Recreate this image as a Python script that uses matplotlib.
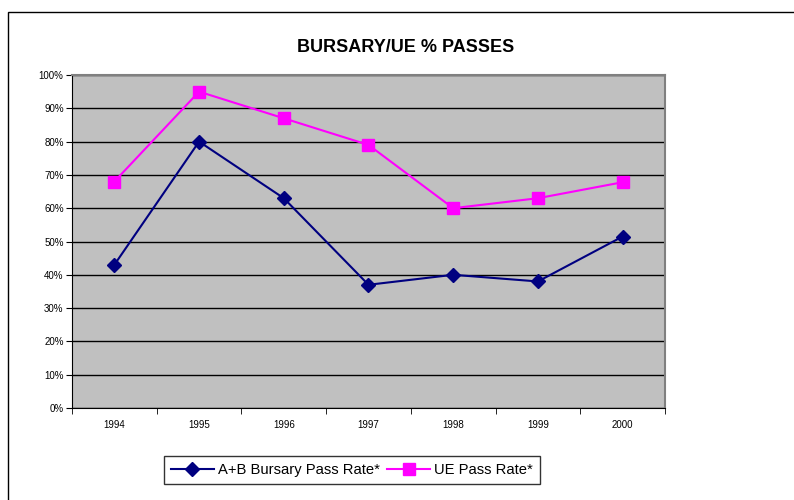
import matplotlib
matplotlib.use("Agg")
import matplotlib.pyplot as plt
from matplotlib.patches import Rectangle
from matplotlib.ticker import PercentFormatter

years = ["1994", "1995", "1996", "1997", "1998", "1999", "2000"]
bursary = [43, 80, 63, 37, 40, 38, 51.5]
ue = [68, 95, 87, 79, 60, 63, 67.8]

plt.rcParams['font.family'] = ['Liberation Sans', 'DejaVu Sans']

fig = plt.figure(figsize=(7.94, 5.0), dpi=100)
fig.patches.append(Rectangle((8/794, -0.1), 1.2, 1 - 12/500 + 0.1, transform=fig.transFigure,
                             fill=False, edgecolor='black', linewidth=1.0, clip_on=False))

ax = fig.add_axes([72/794, 1 - 408/500, (665-72)/794, (408-75)/500])
ax.set_facecolor('#C0C0C0')
x = list(range(len(years)))
ax.plot(x, bursary, color='#000080', marker='D', markersize=7, linewidth=1.5,
        label='A+B Bursary Pass Rate*', zorder=3)
ax.plot(x, ue, color='#FF00FF', marker='s', markersize=9, linewidth=1.5,
        label='UE Pass Rate*', zorder=3)

ax.set_xlim(-0.5, len(years) - 0.5)
ax.set_ylim(0, 100)
ax.set_yticks(range(0, 101, 10))
ax.yaxis.set_major_formatter(PercentFormatter(decimals=0))
ax.set_xticks(x)
ax.set_xticklabels(years)
ax.set_xticks([i - 0.5 for i in range(len(years) + 1)], minor=True)
ax.tick_params(axis='x', which='major', length=0, labelsize=7, pad=9)
ax.tick_params(axis='x', which='minor', length=4, direction='out')
ax.tick_params(axis='y', length=4, direction='out', labelsize=7, pad=2)
ax.grid(axis='y', color='black', linewidth=1.0)
ax.set_axisbelow(True)
for s in ['top', 'right']:
    ax.spines[s].set_color('#808080')
    ax.spines[s].set_linewidth(1.5)
for s in ['left', 'bottom']:
    ax.spines[s].set_color('black')

fig.text(406/794, 1 - 47/500, 'BURSARY/UE % PASSES', ha='center', va='center',
         fontsize=13, fontweight='bold')

leg = fig.legend(loc='center', bbox_to_anchor=(352/794, 1 - 470/500), ncol=2, fontsize=10.6,
                 frameon=True, fancybox=False, edgecolor='black', handlelength=2.9,
                 columnspacing=0.5, handletextpad=0.3, borderpad=0.5)
leg.get_frame().set_linewidth(1.0)

fig.savefig('out.png', dpi=100)
